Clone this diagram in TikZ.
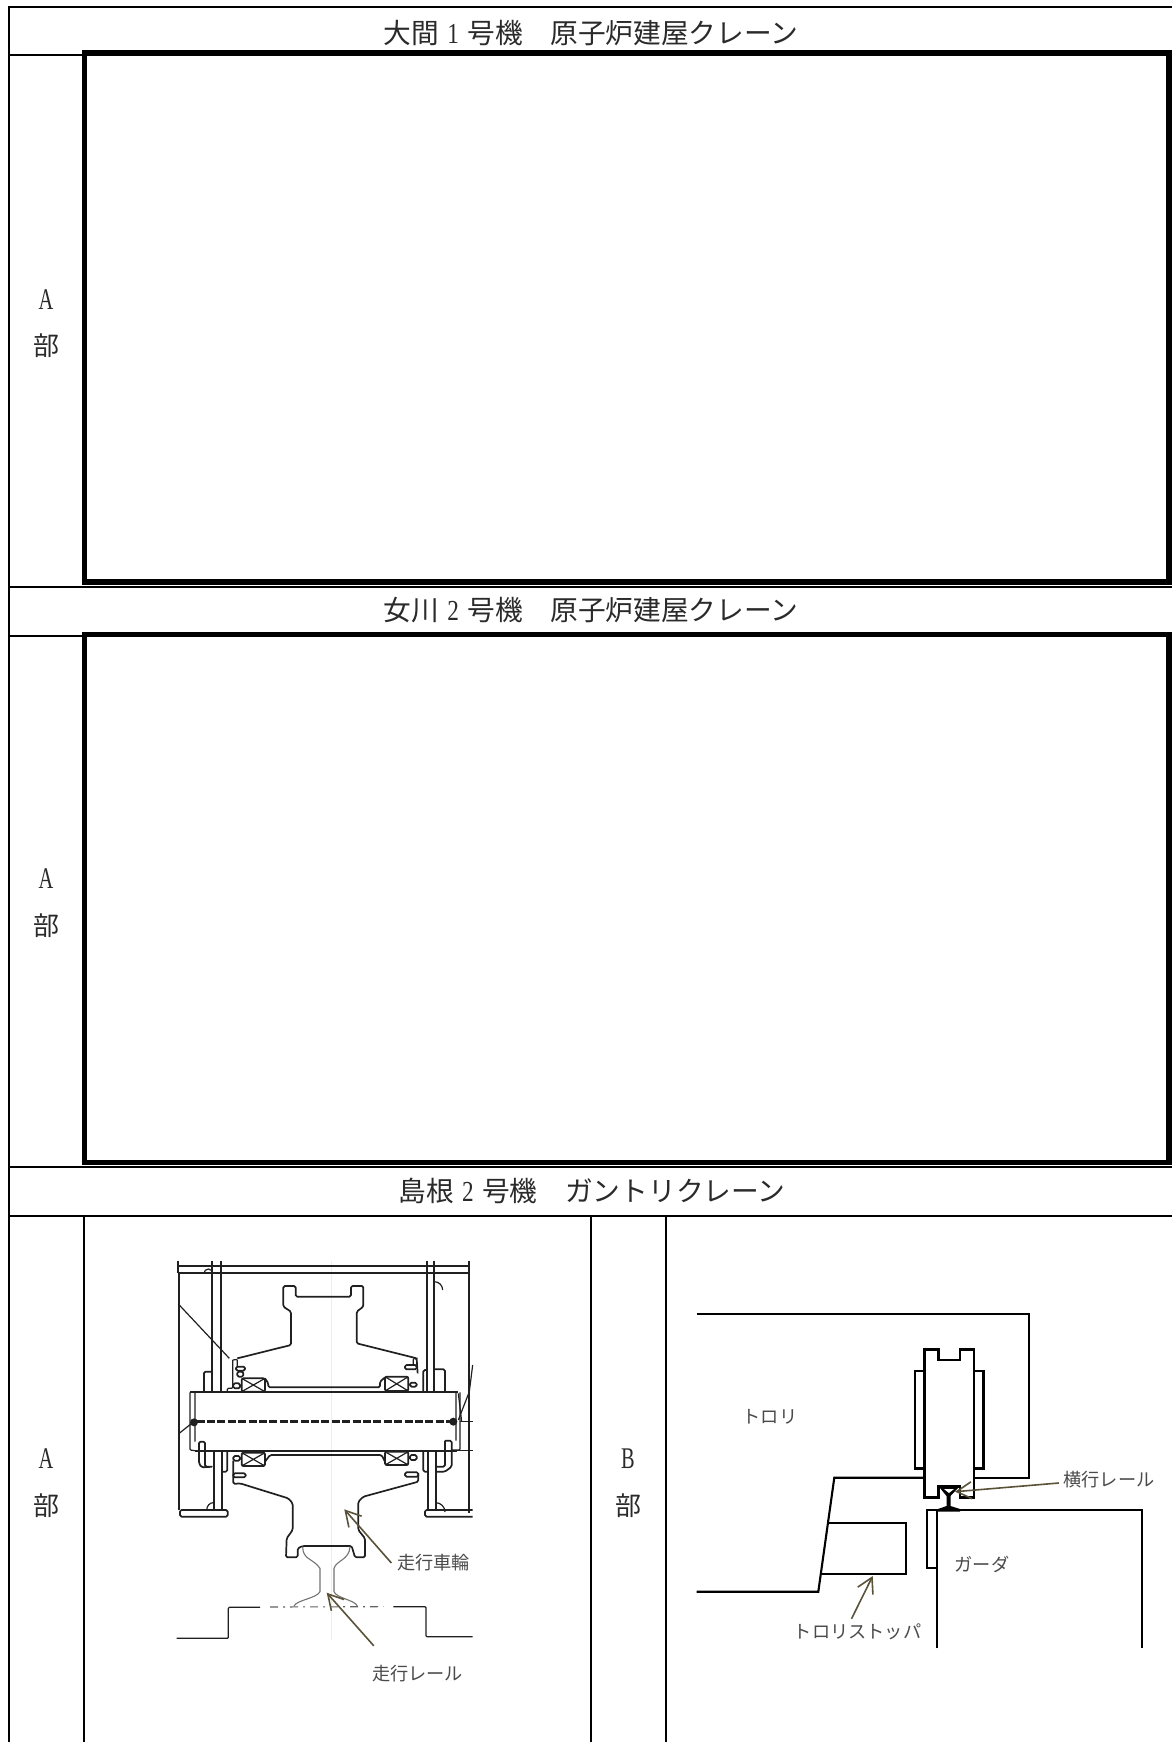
\documentclass[tikz,border=0pt]{standalone}
\usepackage{fontspec}
\usetikzlibrary{arrows.meta}
\setmainfont{Liberation Serif}
\newfontfamily\cjk{Noto Sans CJK JP}
\newfontfamily\latinnarrow[FakeStretch=0.68]{Liberation Serif}
\newfontfamily\digitnarrow[FakeStretch=0.8]{Liberation Serif}
\definecolor{leadcol}{HTML}{5A5238}
\definecolor{txtcol}{HTML}{2A2A2A}
\definecolor{scan}{HTML}{202020}
\tikzset{
 grid/.style={line width=2pt,black},
 heavy/.style={line width=5.8pt,black,line join=miter},
 titlelab/.style={font=\cjk\fontsize{27.7pt}{28pt}\selectfont,text=txtcol,inner sep=0pt},
 partlab/.style={font=\cjk\fontsize{26pt}{28pt}\selectfont,text=txtcol,inner sep=0pt},
 latinlab/.style={font=\latinnarrow\fontsize{30pt}{32pt}\selectfont,text=txtcol,inner sep=0pt},
 smalllab/.style={font=\cjk\fontsize{18.2pt}{20pt}\selectfont,text=txtcol!85,inner sep=0pt,text height=15pt,text depth=3pt},
 leader/.style={line width=1.6pt,leadcol,-{Straight Barb[length=15pt,width=17pt,line width=1.6pt]}},
 solid2/.style={line width=2.1pt,black,line join=miter},
 solid3/.style={line width=2.5pt,black,line join=miter},
 sc/.style={line width=1.2pt,scan,line join=round,rounded corners=1pt},
 scb/.style={line width=1.7pt,scan,line join=round,rounded corners=1.5pt},
}
\newcommand{\numdig}[1]{\hspace{.3em}{\digitnarrow\fontsize{29pt}{30pt}\selectfont #1}\hspace{.3em}}
\begin{document}
\begin{tikzpicture}[x=1pt,y=-1pt]
\useasboundingbox (0,0) rectangle (1171,1742);
% table
\draw[grid] (1172,7) -- (9,7) -- (9,1742);
\foreach \yy in {55.5,586.7,636,1166.7,1216}{\draw[grid] (8,\yy) -- (1172,\yy);}
\draw[grid] (84.3,1216) -- (84.3,1742);
\draw[grid] (591,1216) -- (591,1742);
\draw[grid] (666,1216) -- (666,1742);
\draw[heavy] (84.5,582) -- (84.5,53) -- (1168.6,53) -- (1168.6,582) -- cycle;
\draw[heavy] (84.5,1162.5) -- (84.5,634.5) -- (1168.6,634.5) -- (1168.6,1162.5) -- cycle;
% titles
\node[titlelab] (t1) at (591,33) {大間\numdig{1}号機　原子炉建屋クレーン};
\node[titlelab] (t2) at (591,610) {女川\numdig{2}号機　原子炉建屋クレーン};
\node[titlelab] (t3) at (592,1191) {島根\numdig{2}号機　ガントリクレーン};
\node[latinlab] (a1) at (46,300) {A};
\node[partlab] (b1) at (46,346) {部};
\node[latinlab] (a2) at (46,879) {A};
\node[partlab] (b2) at (46,926) {部};
\node[latinlab] (a3) at (46,1459) {A};
\node[partlab] (b3) at (46,1506) {部};
\node[latinlab] (a4) at (628,1459) {B};
\node[partlab] (b4) at (628,1506) {部};
% A part: scanned drawing, units of 1/3 px, origin (150,1230)
\begin{scope}[shift={(150,1230)},x=.33333pt,y=-.33333pt]
\draw[line width=.5pt,black!7] (545,92) -- (545,1230);
% frame
\draw[scb] (85,92) -- (85,130) (88,130) -- (88,840);
\draw[scb] (958,92) -- (958,130) -- (958,850);
\draw[scb] (85,107) -- (960,107);
\draw[scb] (85,130) -- (960,130);
\draw[scb] (187,92) -- (187,485) (212,92) -- (212,485);
\draw[scb] (832,92) -- (832,485) (853,92) -- (853,485);
\draw[scb] (192,665) -- (192,840) (217,665) -- (217,840);
\draw[scb] (835,665) -- (835,840) (857,665) -- (857,840);
\draw[sc] (162,130) arc[start angle=180,end angle=360,radius=13];
\draw[sc] (853,155) arc[start angle=270,end angle=360,radius=25];
\draw[sc] (170,840) arc[start angle=180,end angle=270,radius=22] -- (192,840);
\draw[sc] (857,818) arc[start angle=270,end angle=360,radius=28];
\draw[scb] (90,840) -- (233,840) -- (233,860) -- (90,860) -- cycle;
\draw[scb] (968,840) -- (825,840) -- (825,860) -- (968,860);
% diagonals
\draw[sc] (85,222) -- (238,385);
\draw[sc] (968,405) -- (958,485) -- (925,570);
\draw[sc] (85,612) -- (125,580);
\draw[sc] (925,490) -- (935,575);
% shaft
\draw[scb] (120,487) -- (925,487);
\draw[scb] (135,662) -- (920,662);
\draw[sc] (120,487) -- (120,660) -- (135,662) (135,487) -- (135,635);
\draw[sc] (918,487) -- (918,632) (930,487) -- (930,660) -- (905,660);
\draw[line width=3pt,scan,dash pattern=on 8pt off 2.4pt] (140,575) -- (908,575);
\draw[line width=.8pt,scan] (930,575) -- (968,575) (915,662) -- (968,662);
\fill[scan] (132,577) circle[radius=12];
\fill[scan] (910,575) circle[radius=12];
% upper half of wheel
\draw[scb] (262,385) -- (423,345) -- (423,245) -- (400,230) -- (400,168) -- (437,168) -- (437,200) -- (603,200) -- (603,168) -- (640,168) -- (640,230) -- (620,245) -- (620,340) -- (800,385) -- (803,430);
\draw[sc] (248,390) -- (262,388) -- (262,410) (248,390) -- (248,475) -- (232,475) -- (232,487);
\draw[sc] (803,385) -- (790,385) -- (790,405);
\draw[scb] (345,445) -- (355,460) -- (355,472) -- (690,472) -- (690,455) -- (705,442);
% bearings
\foreach \xa/\ya/\xb/\yb in {275/445/345/485,705/440/775/483,275/668/345/708,705/665/775/705}{
 \draw[scb] (\xa,\ya) rectangle (\xb,\yb);
 \draw[sc] (\xa,\ya) -- (\xb,\yb) (\xa,\yb) -- (\xb,\ya);
}
% bolts and rings
\foreach \xa/\ya/\xb/\yb in {258/410/285/422,262/425/280/440,765/405/800/418,250/730/287/742,765/727/805/740,250/460/270/475,780/458/800/470,250/678/270/692,780/675/800/690}{
 \draw[scb] (\xa,\ya) rectangle (\xb,\yb);
}
% collars
\draw[scb] (162,485) -- (162,425) -- (187,425);
\draw[scb] (853,418) -- (885,418) -- (885,485);
\draw[scb] (820,485) -- (820,420) -- (832,420);
\draw[scb] (147,635) -- (165,635) -- (165,710) -- (190,710) -- (155,712) -- (147,700) -- cycle;
\draw[scb] (885,632) -- (905,632) -- (905,710) -- (885,725) -- (857,725) (885,632) -- (885,710) -- (860,710);
\draw[scb] (232,665) -- (232,725) -- (217,725);
\draw[scb] (820,665) -- (820,725) -- (835,725);
\draw[scb] (345,695) -- (360,675) -- (695,675) -- (705,695);
% lower half of wheel
\draw[scb] (250,692) -- (250,762) -- (270,760) -- (415,805) -- (428,820) -- (428,900) -- (410,925) -- (408,982) -- (443,982) -- (443,955) -- (458,948) -- (605,948) -- (615,982) -- (645,982) -- (645,925) -- (625,900) -- (625,815) -- (640,800) -- (805,755) -- (805,730);
% rail
\draw[line width=1.1pt,black!55] (458,950) .. controls (458,990) and (490,985) .. (510,1015) -- (510,1085) .. controls (500,1105) and (440,1110) .. (432,1128);
\draw[line width=1.1pt,black!55] (600,950) .. controls (598,990) and (560,990) .. (552,1015) -- (552,1085) .. controls (560,1105) and (615,1110) .. (622,1128);
% base
\draw[sc] (80,1225) -- (235,1225) -- (235,1132) -- (330,1132);
\draw[sc] (730,1130) -- (828,1130) -- (828,1220) -- (968,1220);
\draw[line width=1.1pt,scan!70,dash pattern=on 8pt off 5pt on 2pt off 5pt] (360,1131) -- (700,1130);
\end{scope}
% A part labels
\node[smalllab] (wheellab) at (433.5,1563) {走行車輪};
\node[smalllab] (raillab) at (417.5,1674) {走行レール};
\coordinate (wheeltip) at (344.3,1509.3);
\coordinate (railtip) at (326.7,1592.7);
\draw[leader] ([xshift=-5.5pt]wheellab.west) -- (wheeltip);
\draw[leader] ([shift={(2pt,19pt)}]raillab.north west) -- (railtip);
% B part
\draw[solid2] (696.7,1314) -- (1029,1314) -- (1029,1477.7) -- (975,1477.7);
\draw[solid2] (696.7,1591.7) -- (818.3,1591.7) -- (834.3,1477.7) -- (924.3,1477.7);
\draw[solid3] (924.3,1349.3) -- (938.3,1349.3) -- (938.3,1360) -- (960,1360) -- (960,1349.3) -- (974,1349.3) -- (974,1497.7) -- (960,1497.7) -- (960,1486.7) -- (938.3,1486.7) -- (938.3,1497.7) -- (924.3,1497.7) -- cycle;
\draw[solid3] (924.3,1371) -- (915,1371) -- (915,1468.3) -- (924.3,1468.3);
\draw[solid3] (974,1371) -- (983.3,1371) -- (983.3,1468.3) -- (974,1468.3);
\draw[solid2] (936.7,1648.3) -- (936.7,1510) -- (1142.3,1510) -- (1142.3,1648.3);
\draw[solid2] (936.7,1510) -- (927,1510) -- (927,1567.7) -- (936.7,1567.7);
\draw[solid2] (827.7,1523.3) -- (906,1523.3) -- (906,1574.3) -- (821.7,1574.3);
\fill[black] (940,1486) -- (958,1486) -- (958,1488) -- (950.5,1496) -- (950.5,1506) -- (960,1509) -- (960,1511.5) -- (938,1511.5) -- (938,1509) -- (946.5,1506) -- (946.5,1496) -- (940,1488) -- cycle;
\fill[white] (944,1489) -- (954,1489) -- (949,1493) -- cycle;
\node[smalllab] (trolleylab) at (770,1417) {トロリ};
\node[smalllab] (girderlab) at (982,1565) {ガーダ};
\node[smalllab] (raillab2) at (1109,1480) {横行レール};
\node[smalllab] (stoplab) at (857.5,1632) {トロリストッパ};
\coordinate (railtip2) at (955,1491.7);
\coordinate (stoptip) at (872.7,1576);
\draw[leader] ([shift={(-4.5pt,-3pt)}]raillab2.west) -- (railtip2);
\draw[leader] ([shift={(-6pt,4pt)}]stoplab.north) -- (stoptip);
\end{tikzpicture}
\end{document}
